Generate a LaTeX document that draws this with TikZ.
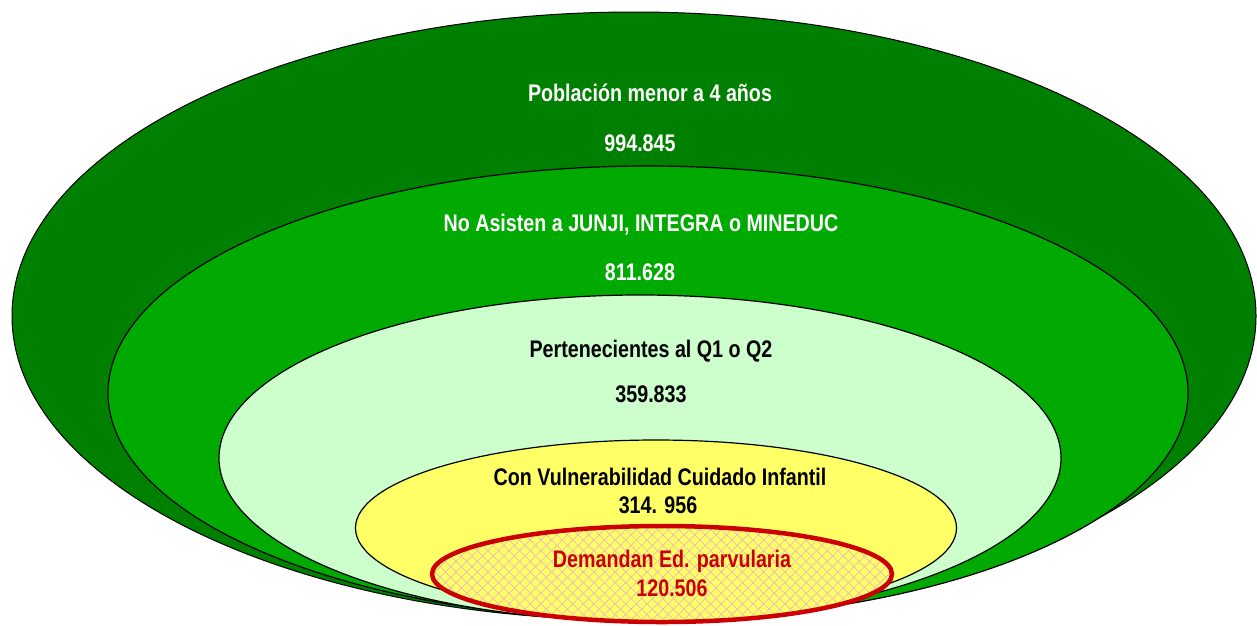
\documentclass[tikz,border=0pt]{standalone}
\usepackage{fontspec}
\setmainfont{Liberation Sans}[FakeStretch=0.82]
\usepackage{tikz}
\usetikzlibrary{shapes.geometric,patterns.meta,positioning}
\definecolor{darkgreen}{RGB}{0,128,0}
\definecolor{midgreen}{RGB}{0,170,0}
\definecolor{palegreen}{RGB}{204,255,204}
\definecolor{paleyellow}{RGB}{255,255,102}
\definecolor{demandred}{RGB}{204,0,0}
\definecolor{hatchpink}{RGB}{236,184,190}

\begin{document}
\begin{tikzpicture}[x=1pt,y=-1pt]
% STYLES
\tikzset{%
    ring/.style={%
        ellipse, draw=black, line width=1.2pt, inner sep=0pt
    },
    txt/.style={%
        font=\bfseries\fontsize{24}{28}\selectfont, inner sep=0pt
    }
}
\useasboundingbox (0,0) rectangle (1257,625);
% Draw rings
\node [ring, line width=1pt, fill=darkgreen, minimum width=1244pt, minimum height=608pt] (poblacion) at (634,316) {};
\node [ring, fill=midgreen, minimum width=1080pt, minimum height=454pt] (noasisten) at (648,393) {};
\node [ring, fill=palegreen, minimum width=842pt, minimum height=326pt] (quintil) at (640,458) {};
\node [ring, fill=paleyellow, minimum width=601pt, minimum height=176pt] (vulnerable) at (656,528) {};
\node [ring, draw=demandred, line width=4.5pt, minimum width=460pt, minimum height=96pt,
    preaction={fill=paleyellow},
    preaction={pattern={Lines[angle=45,distance=7.5pt,line width=0.7pt]}, pattern color=hatchpink},
    preaction={pattern={Lines[angle=-45,distance=7.5pt,line width=0.7pt]}, pattern color=hatchpink}] (demanda) at (662,574) {};
% Draw texts
\node [txt, text=white] (poblaciontxt) at (650,93) {Población menor a 4 años};
\node [txt, text=white] (poblacionnum) at (640,143) {994.845};
\node [txt, text=white] (noasistentxt) at (641,225) {No Asisten a JUNJI, INTEGRA o MINEDUC};
\node [txt, text=white] (noasistennum) at (640,272) {811.628};
\node [txt] (quintiltxt) at (651,351) {Pertenecientes al Q1 o Q2};
\node [txt] (quintilnum) at (651,394) {359.833};
\node [txt] (vulnerabletxt) at (660,477) {Con Vulnerabilidad Cuidado Infantil};
\node [txt] (vulnerablenum) at (658,505) {314. 956};
\node [txt, text=demandred] (demandatxt) at (672,561) {Demandan Ed. parvularia};
\node [txt, text=demandred] (demandanum) at (672,588) {120.506};
\end{tikzpicture}
\end{document}
